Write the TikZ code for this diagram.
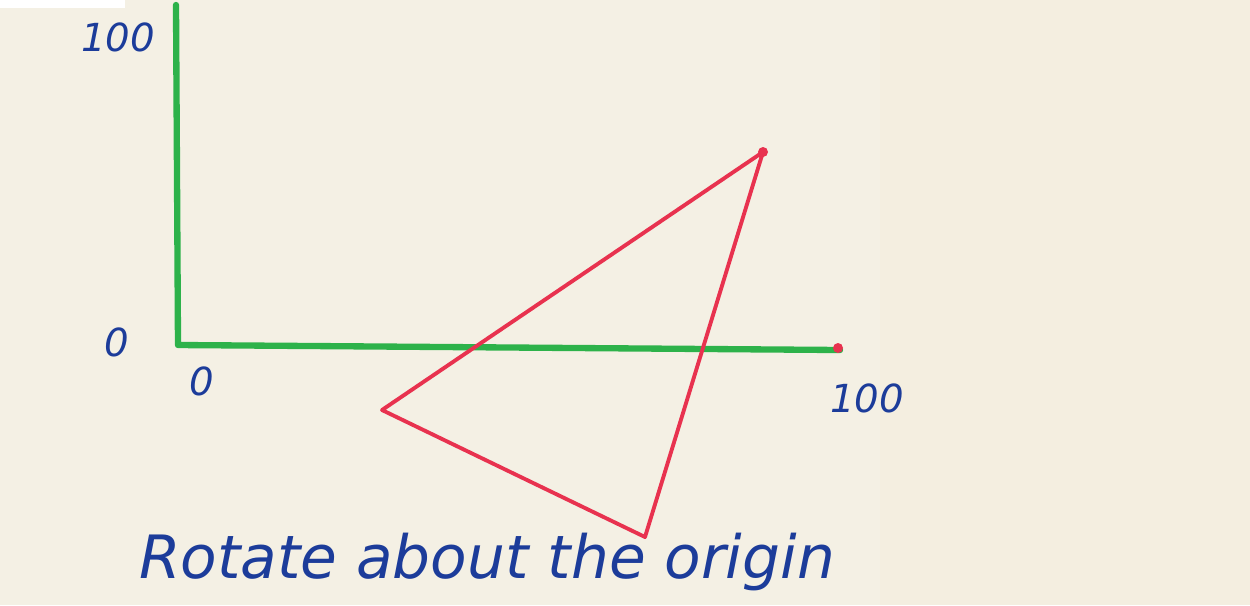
\documentclass[tikz,border=0pt]{standalone}
\usepackage{fontspec}
\usepackage{xcolor}
\usetikzlibrary{positioning,calc}
\setmainfont{DejaVu Sans}
\definecolor{paper}{HTML}{F4F0E4}
\definecolor{paperr}{HTML}{F4EEE0}
\definecolor{axis}{HTML}{2DB24A}
\definecolor{pen}{HTML}{E8324F}
\definecolor{ink}{HTML}{1C3C9A}

\begin{document}
\begin{tikzpicture}[font=\itshape,
  axisline/.style={axis, line width=1.8pt, line cap=round, line join=round},
  tri/.style={pen, line width=1.1pt, line join=round},
  num/.style={ink, font=\fontsize{11}{11}\selectfont\itshape},
  caption/.style={ink, font=\fontsize{17}{20}\selectfont\itshape}]
  \fill[paper] (0,0) rectangle (12.5,6.05);
  \fill[paperr] (8.8,0) rectangle (12.5,6.05);
  \fill[white] (0,5.97) rectangle (1.25,6.05);
  \useasboundingbox (0,0) rectangle (12.5,6.05);
  % axes
  \coordinate (o) at (1.78,2.60);
  \coordinate (ytop) at (1.76,6.00);
  \coordinate (xend) at (8.40,2.55);
  \draw[axisline] (ytop) -- (o) -- (xend);
  \fill[pen] (8.38,2.57) circle (0.05);
  \node[num] (ymax) at (1.18,5.68) {100};
  \node[num] (yzero) at (1.17,2.63) {0};
  \node[num] (xzero) at (2.02,2.24) {0};
  \node[num] (xmax) at (8.67,2.07) {100};
  % triangle
  \coordinate (a) at (7.63,4.53);
  \coordinate (b) at (3.82,1.95);
  \coordinate (c) at (6.45,0.68);
  \draw[tri] (a) -- (b) -- (c) -- cycle;
  \fill[pen] (a) circle (0.05);
  \node[caption] (title) at (4.87,0.43) {Rotate about the origin};
\end{tikzpicture}
\end{document}
